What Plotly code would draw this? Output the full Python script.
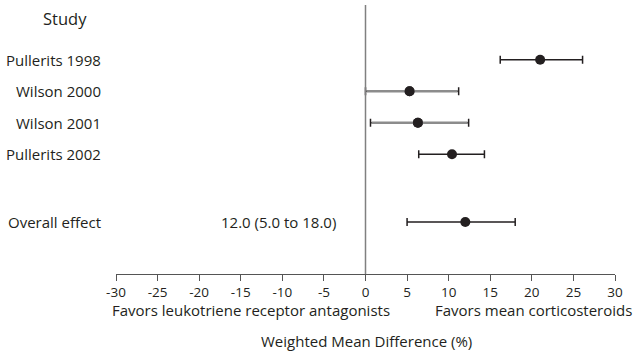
import plotly.graph_objects as go

# Individual studies: weighted mean difference (%) with 95% CI
studies = ["Pullerits 1998", "Wilson 2000", "Wilson 2001", "Pullerits 2002"]
study_wmd = [21.0, 5.3, 6.3, 10.4]
study_lower = [16.2, 0.0, 0.6, 6.4]
study_upper = [26.1, 11.2, 12.4, 14.3]

# Pooled estimate
overall_label = "Overall effect"
overall_wmd = 12.0
overall_lower = 5.0
overall_upper = 18.0

x_ticks = [-30, -25, -20, -15, -10, -5, 0, 5, 10, 15, 20, 25, 30]
grey_studies = ["Wilson 2000", "Wilson 2001"]

# layout rows (top to bottom)
study_rows = [1, 2, 3, 4]
overall_row = 6.15

INK = "#231f20"
FONT = "Open Sans"

labels = studies + [overall_label]
rows = study_rows + [overall_row]
est = study_wmd + [overall_wmd]
lo = study_lower + [overall_lower]
hi = study_upper + [overall_upper]

fig = go.Figure()

# estimates with confidence intervals
fig.add_trace(go.Scatter(
    x=est, y=rows, mode="markers",
    marker=dict(size=10, color=INK),
    error_x=dict(type="data", symmetric=False,
                 array=[h - e for h, e in zip(hi, est)],
                 arrayminus=[e - l for e, l in zip(est, lo)],
                 color=INK, thickness=1.5, width=4),
    hoverinfo="skip", showlegend=False,
))

# grey interval bodies for the Wilson studies
gx, gy = [], []
for name, r, l, h in zip(labels, rows, lo, hi):
    if name in grey_studies:
        gx += [l + 0.12, h - 0.12, None]
        gy += [r, r, None]
fig.add_trace(go.Scatter(x=gx, y=gy, mode="lines",
                         line=dict(color="#8c8c8c", width=2.5),
                         hoverinfo="skip", showlegend=False))

# redraw their point estimates on top
gsel = [i for i, n in enumerate(labels) if n in grey_studies]
fig.add_trace(go.Scatter(x=[est[i] for i in gsel], y=[rows[i] for i in gsel],
                         mode="markers", marker=dict(size=10, color=INK),
                         hoverinfo="skip", showlegend=False))

# line of no effect
fig.add_shape(type="line", xref="x", yref="paper", x0=0, x1=0, y0=0, y1=1,
              line=dict(color="#808080", width=1.5))


def txt(text, x, y, size, xanchor="center", xref="paper", yref="paper"):
    return dict(text=text, xref=xref, x=x, xanchor=xanchor, yref=yref, y=y,
                yanchor="middle", showarrow=False,
                font=dict(family=FONT, size=size, color=INK))


W, H, L, T = 499, 269, 116, 5   # plot area in pixels
ann = [txt("Study", (65 - L) / W, 1 - (19 - T) / H, 16.5)]
for name, r in zip(labels, rows):
    ann.append(txt(name, (103 - L) / W, r, 15, xanchor="right", yref="y"))
ann.append(txt(f"{overall_wmd:.1f} ({overall_lower:.1f} to {overall_upper:.1f})",
               (278 - L) / W, overall_row, 15, yref="y"))
ann.append(txt("Favors leukotriene receptor antagonists",
               (251 - L) / W, -(310 - 274) / H, 15))
ann.append(txt("Favors mean corticosteroids",
               (533 - L) / W, -(310 - 274) / H, 15))
ann.append(txt("Weighted Mean Difference (%)", (366 - L) / W, -(341 - 274) / H, 15))

fig.update_layout(
    width=636, height=353,
    margin=dict(l=116, r=21, t=5, b=79),
    paper_bgcolor="white", plot_bgcolor="white",
    annotations=ann,
    xaxis=dict(range=[-30, 30], tickvals=x_ticks, ticktext=[str(v) for v in x_ticks],
               showline=True, linecolor="#555", linewidth=1.2,
               ticks="outside", ticklen=6, tickcolor="#555", tickwidth=1.2,
               showgrid=False, zeroline=False,
               tickfont=dict(family=FONT, size=13.5, color=INK)),
    yaxis=dict(range=[7.8, -0.74], visible=False, showgrid=False, zeroline=False),
)

fig.write_html("out.html")
